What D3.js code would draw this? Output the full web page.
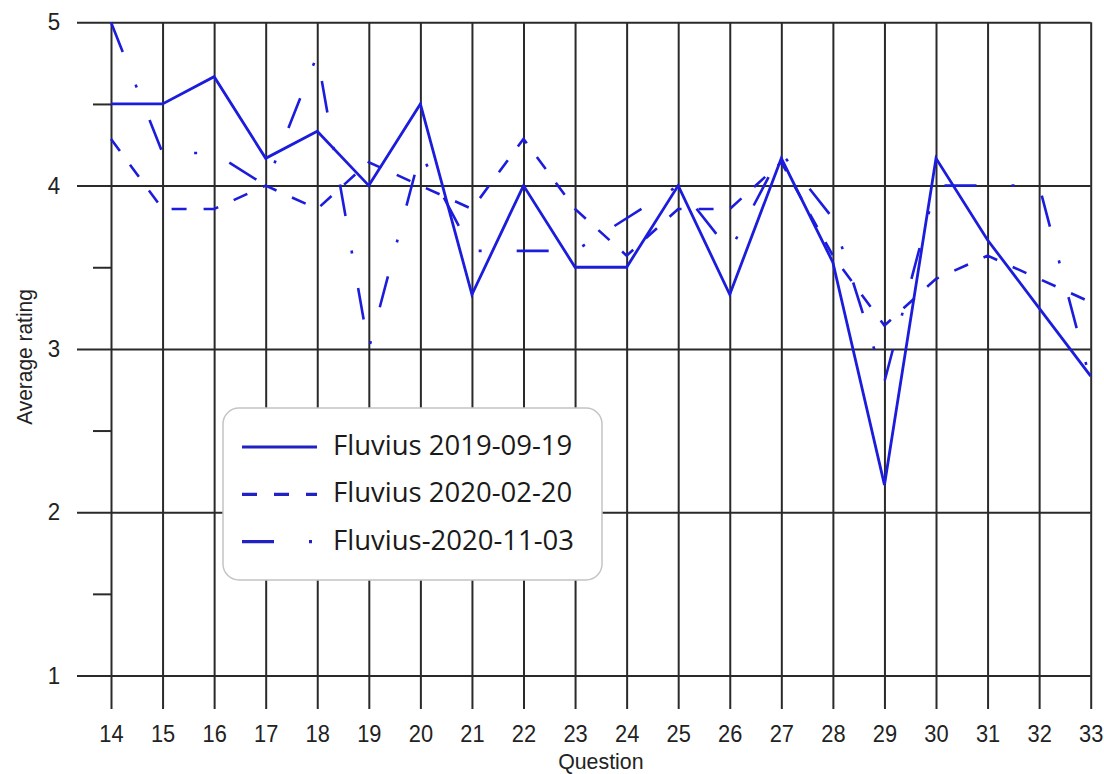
<!DOCTYPE html>
<html>
<head>
<meta charset="utf-8">
<script src="https://cdn.jsdelivr.net/npm/d3@7"></script>
<style>
  html, body { margin: 0; padding: 0; background: #fff; }
  svg { display: block; }
</style>
</head>
<body>
<svg id="chart" width="1104" height="774"></svg>
<script>
// Question numbers on the x axis
const questions = [14, 15, 16, 17, 18, 19, 20, 21, 22, 23, 24, 25, 26, 27, 28, 29, 30, 31, 32, 33];

// Average rating per question for each survey round
const survey20190919 = [4.5, 4.5, 4.667, 4.167, 4.333, 4.0, 4.5, 3.333, 4.0, 3.5, 3.5, 4.0, 3.333, 4.167, 3.53, 2.167, 4.167, 3.667, 3.25, 2.833];
const survey20200220 = [4.286, 3.857, 3.857, 4.0, 3.857, 4.143, 4.0, 3.857, 4.286, 3.857, 3.571, 3.857, 3.857, 4.143, 3.571, 3.143, 3.429, 3.571, 3.429, 3.286];
const survey20201103 = [5.0, 4.2, 4.2, 4.0, 4.8, 3.0, 4.2, 3.6, 3.6, 3.6, 3.8, 4.0, 3.6, 4.2, 3.8, 2.8, 4.0, 4.0, 4.0, 2.8];

const seriesNames = ["Fluvius 2019-09-19", "Fluvius 2020-02-20", "Fluvius-2020-11-03"];
const seriesValues = [survey20190919, survey20200220, survey20201103];

const yMajorTicks = [1, 2, 3, 4, 5];
const yMinorTicks = [1.5, 2.5, 3.5, 4.5];

// line styles: solid, dashed, long dash + dot
const dashStyles = [null, "15 17", "32 35 3 35"];
const lineWidths = [2.8, 2.6, 2.6];
const lineColor = "#1c1cdc";

const svg = d3.select("#chart");

const plot = { left: 111, right: 1090.7, top: 22.3, bottom: 675.5 };
const axisBottomY = 709;
const gridLeftX = 77;

const x = d3.scaleLinear().domain([14, 33]).range([plot.left, plot.right]);
const y = d3.scaleLinear().domain([1, 5]).range([plot.bottom, plot.top]);

const gridColor = "#2a2a2a";
const tickFont = "'Liberation Sans', Arial, sans-serif";

// vertical grid lines + question labels
const xAxis = svg.append("g")
  .attr("transform", `translate(0,${axisBottomY})`)
  .call(d3.axisBottom(x)
    .tickValues(questions)
    .tickFormat(d3.format("d"))
    .tickSizeInner(-(axisBottomY - plot.top))
    .tickSizeOuter(0)
    .tickPadding(17));
xAxis.select(".domain").remove();
xAxis.selectAll(".tick line").attr("stroke", gridColor).attr("stroke-width", 2);
xAxis.selectAll(".tick text")
  .attr("fill", "#222")
  .style("font-family", tickFont)
  .style("font-size", "23px")
  .attr("transform", "scale(0.95,1)");

// horizontal grid lines + rating labels
const yAxis = svg.append("g")
  .attr("transform", `translate(${gridLeftX},0)`)
  .call(d3.axisLeft(y)
    .tickValues(yMajorTicks)
    .tickFormat(d3.format("d"))
    .tickSizeInner(-(plot.right - gridLeftX))
    .tickSizeOuter(0)
    .tickPadding(18));
yAxis.select(".domain").remove();
yAxis.selectAll(".tick line").attr("stroke", gridColor).attr("stroke-width", 2);
yAxis.selectAll(".tick text")
  .attr("fill", "#222")
  .style("font-family", tickFont)
  .style("font-size", "24px")
  .attr("transform", "scale(0.93,1)");

// minor ticks at the half ratings
const yMinor = svg.append("g")
  .attr("transform", `translate(${plot.left},0)`)
  .call(d3.axisLeft(y)
    .tickValues(yMinorTicks)
    .tickFormat("")
    .tickSizeInner(18)
    .tickSizeOuter(0));
yMinor.select(".domain").remove();
yMinor.selectAll(".tick line").attr("stroke", gridColor).attr("stroke-width", 2);

// axis titles
const midX = (plot.left + plot.right) / 2;
svg.append("text")
  .attr("transform", `translate(${midX},769) scale(0.97,1)`)
  .attr("text-anchor", "middle")
  .attr("fill", "#222")
  .style("font-family", tickFont)
  .style("font-size", "22px")
  .text("Question");

svg.append("text")
  .attr("transform", `translate(32,357) rotate(-90) scale(0.93,1)`)
  .attr("text-anchor", "middle")
  .attr("fill", "#222")
  .style("font-family", tickFont)
  .style("font-size", "22.5px")
  .text("Average rating");

// rating lines
const line = d3.line()
  .x((d, i) => x(questions[i]))
  .y(d => y(d));

seriesValues.forEach((vals, k) => {
  svg.append("path")
    .datum(vals)
    .attr("fill", "none")
    .attr("stroke", lineColor)
    .attr("stroke-width", lineWidths[k])
    .attr("stroke-dasharray", dashStyles[k])
    .attr("stroke-linejoin", "miter")
    .attr("d", line);
});

// legend
const legend = svg.append("g").attr("transform", "translate(223,408)");
legend.append("rect")
  .attr("width", 379)
  .attr("height", 172)
  .attr("rx", 16)
  .attr("fill", "#fff")
  .attr("stroke", "#c4c4c4")
  .attr("stroke-width", 1.5);

seriesNames.forEach((name, k) => {
  const cy = 39 + k * 47.3;
  legend.append("line")
    .attr("x1", 19).attr("x2", 94)
    .attr("y1", cy).attr("y2", cy)
    .attr("stroke", "#2222c4")
    .attr("stroke-width", 3.2)
    .attr("stroke-dasharray", dashStyles[k]);
  legend.append("text")
    .attr("x", 110)
    .attr("y", cy + 8)
    .attr("fill", "#1a1a1a")
    .style("font-family", "'Open Sans', sans-serif")
    .style("font-size", "27.5px")
    .text(name);
});
</script>
</body>
</html>
